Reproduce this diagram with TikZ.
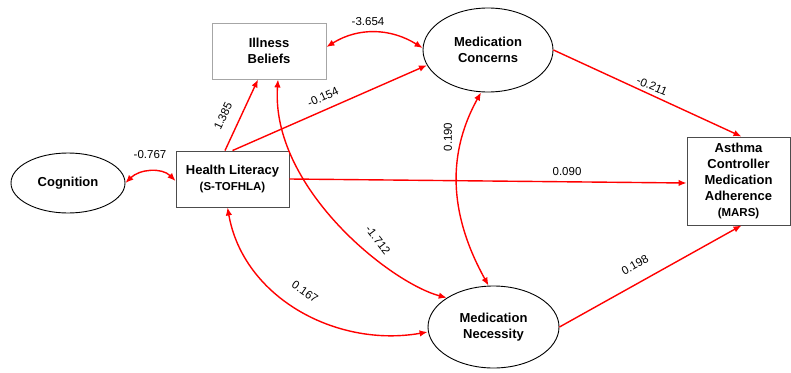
\documentclass[tikz,border=0pt]{standalone}
\usepackage{fontspec}
\setmainfont{Liberation Sans}
\usetikzlibrary{shapes.geometric,arrows.meta}
\begin{document}
\begin{tikzpicture}[x=1pt,y=1pt,
  lat/.style={ellipse,draw=black,line width=0.9pt,inner sep=0pt,font=\fontsize{13}{16}\selectfont\bfseries,align=center},
  obs/.style={rectangle,draw=#1,line width=0.9pt,inner sep=0pt,font=\fontsize{13}{16}\selectfont\bfseries,align=center},
  onearr/.style={red,line width=1.4pt,-{Latex[length=8pt,width=6.5pt]}},
  twoarr/.style={red,line width=1.4pt,{Latex[length=8pt,width=6.5pt]}-{Latex[length=8pt,width=6.5pt]}},
  lbl/.style={font=\fontsize{11.5}{13}\selectfont,inner sep=0pt}]
\useasboundingbox (0,0) rectangle (791,-372);
\node[lat,minimum width=114pt,minimum height=60pt] (cog) at (68,-183) {Cognition};
\node[obs=black!70,minimum width=113pt,minimum height=56pt] (hl) at (232.5,-179) {Health Literacy\\{\fontsize{11.5}{15}\selectfont (S-TOFHLA)}};
\node[obs=black!35,minimum width=114pt,minimum height=56pt] (ib) at (269,-51) {Illness\\Beliefs};
\node[lat,minimum width=130pt,minimum height=84pt] (mc) at (488,-50) {Medication\\Concerns};
\node[lat,minimum width=131pt,minimum height=82pt] (mn) at (493.5,-327) {Medication\\Necessity};
\node[obs=black!70,minimum width=103pt,minimum height=88pt] (ad) at (738.5,-181) {Asthma\\Controller\\Medication\\Adherence\\{\fontsize{11.5}{15}\selectfont (MARS)}};

% one-headed paths
\draw[onearr] ([xshift=-7.5pt]hl.north) -- ([xshift=-11pt]ib.south);
\draw[onearr] (hl.north) -- (mc.194);
\draw[onearr] (hl.east) -- ([yshift=-2pt]ad.west);
\draw[onearr] (mc.east) -- ([xshift=3pt]ad.north);
\draw[onearr] (mn.east) -- ([xshift=3pt]ad.south);

% two-headed covariances
\draw[twoarr] (cog.east) to[out=45,in=135] ([yshift=-2pt]hl.west);
\draw[twoarr] ([yshift=4pt]ib.east) to[out=32,in=148] ([yshift=2pt]mc.west);
\draw[twoarr] ([xshift=-7pt]mc.south) to[out=241,in=119] ([xshift=-5pt]mn.north);
\draw[twoarr] ([xshift=-5pt]hl.south) to[out=280,in=190] ([yshift=-5pt]mn.west);
\draw[twoarr] ([xshift=9pt]ib.south) to[out=266,in=165,out looseness=1,in looseness=0.55] (mn.148);

% labels
\node[lbl] (l1) at (150,-155) {-0.767};
\node[lbl] (l2) at (368,-22) {-3.654};
\node[lbl,rotate=65] (l3) at (223,-116) {1.385};
\node[lbl,rotate=24] (l4) at (323,-97) {-0.154};
\node[lbl] (l5) at (567,-172) {0.090};
\node[lbl,rotate=-22] (l6) at (652,-86) {-0.211};
\node[lbl,rotate=29] (l7) at (635,-265) {0.198};
\node[lbl,rotate=90] (l8) at (448,-137) {0.190};
\node[lbl,rotate=-52] (l9) at (378,-240) {-1.712};
\node[lbl,rotate=-35] (l10) at (305,-292) {0.167};
\end{tikzpicture}
\end{document}
